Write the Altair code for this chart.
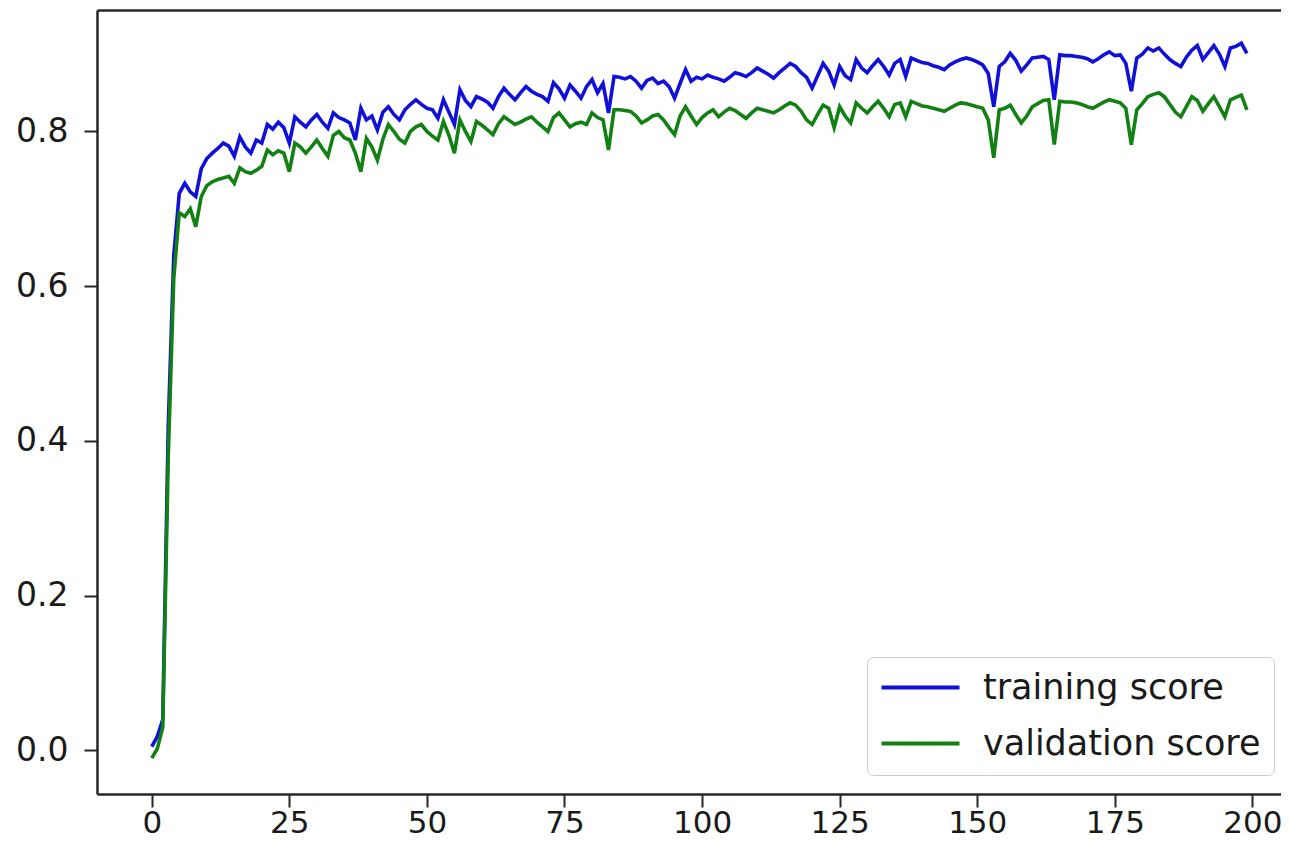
import altair as alt
import pandas as pd

series_names = ["training score", "validation score"]
epochs = list(range(200))

training = [
    0.005, 0.018, 0.040, 0.420, 0.640, 0.720, 0.733, 0.722, 0.716, 0.752,
    0.765, 0.772, 0.778, 0.785, 0.781, 0.768, 0.793, 0.780, 0.772, 0.789,
    0.785, 0.809, 0.803, 0.812, 0.805, 0.785, 0.819, 0.812, 0.806, 0.815,
    0.822, 0.812, 0.804, 0.824, 0.818, 0.815, 0.811, 0.789, 0.830, 0.815,
    0.820, 0.802, 0.825, 0.832, 0.822, 0.815, 0.828, 0.835, 0.841, 0.835,
    0.830, 0.828, 0.817, 0.841, 0.825, 0.809, 0.854, 0.840, 0.832, 0.845,
    0.842, 0.838, 0.830, 0.845, 0.856, 0.848, 0.841, 0.850, 0.858, 0.852,
    0.848, 0.845, 0.839, 0.863, 0.855, 0.843, 0.860, 0.852, 0.843, 0.858,
    0.867, 0.850, 0.862, 0.824, 0.871, 0.870, 0.868, 0.871, 0.865, 0.856,
    0.866, 0.869, 0.862, 0.865, 0.858, 0.843, 0.862, 0.880, 0.865, 0.870,
    0.868, 0.873, 0.870, 0.868, 0.865, 0.870, 0.876, 0.874, 0.871, 0.876,
    0.882, 0.878, 0.874, 0.869, 0.876, 0.882, 0.888, 0.884, 0.876, 0.870,
    0.856, 0.872, 0.888, 0.878, 0.860, 0.884, 0.872, 0.867, 0.893, 0.882,
    0.876, 0.885, 0.893, 0.884, 0.873, 0.888, 0.893, 0.871, 0.895, 0.892,
    0.889, 0.888, 0.885, 0.883, 0.880, 0.886, 0.890, 0.893, 0.895, 0.893,
    0.890, 0.886, 0.875, 0.832, 0.884, 0.890, 0.901, 0.892, 0.878, 0.886,
    0.895, 0.896, 0.897, 0.893, 0.841, 0.899, 0.898, 0.898, 0.897, 0.896,
    0.894, 0.890, 0.894, 0.899, 0.903, 0.898, 0.899, 0.888, 0.852, 0.895,
    0.900, 0.908, 0.904, 0.908, 0.900, 0.893, 0.888, 0.884, 0.896, 0.905,
    0.911, 0.893, 0.902, 0.911, 0.900, 0.884, 0.908, 0.910, 0.914, 0.901,
]

validation = [
    -0.010, 0.002, 0.030, 0.380, 0.610, 0.695, 0.690, 0.700, 0.677, 0.716,
    0.730, 0.735, 0.738, 0.740, 0.742, 0.733, 0.753, 0.748, 0.746, 0.750,
    0.755, 0.776, 0.770, 0.775, 0.772, 0.748, 0.785, 0.780, 0.772, 0.780,
    0.789, 0.778, 0.768, 0.795, 0.800, 0.792, 0.789, 0.772, 0.748, 0.791,
    0.780, 0.763, 0.790, 0.809, 0.800, 0.790, 0.785, 0.800, 0.806, 0.809,
    0.800, 0.794, 0.789, 0.813, 0.795, 0.772, 0.815, 0.800, 0.787, 0.813,
    0.808, 0.802, 0.796, 0.810, 0.819, 0.814, 0.809, 0.812, 0.816, 0.819,
    0.812, 0.806, 0.800, 0.818, 0.824, 0.815, 0.806, 0.810, 0.812, 0.809,
    0.824, 0.818, 0.815, 0.776, 0.828, 0.828, 0.827, 0.826, 0.820, 0.811,
    0.815, 0.820, 0.822, 0.815, 0.805, 0.796, 0.820, 0.832, 0.820, 0.809,
    0.818, 0.824, 0.828, 0.819, 0.825, 0.830, 0.827, 0.822, 0.817, 0.824,
    0.830, 0.828, 0.826, 0.824, 0.828, 0.833, 0.837, 0.834, 0.826, 0.815,
    0.809, 0.822, 0.834, 0.830, 0.805, 0.832, 0.820, 0.811, 0.837, 0.830,
    0.824, 0.832, 0.839, 0.830, 0.819, 0.835, 0.837, 0.819, 0.839, 0.836,
    0.833, 0.832, 0.830, 0.828, 0.826, 0.830, 0.834, 0.837, 0.836, 0.834,
    0.832, 0.830, 0.815, 0.766, 0.828, 0.830, 0.834, 0.822, 0.811, 0.820,
    0.832, 0.836, 0.840, 0.841, 0.783, 0.839, 0.838, 0.838, 0.837, 0.835,
    0.832, 0.830, 0.834, 0.838, 0.841, 0.839, 0.837, 0.830, 0.783, 0.828,
    0.836, 0.845, 0.848, 0.850, 0.845, 0.835, 0.825, 0.819, 0.832, 0.845,
    0.840, 0.826, 0.836, 0.845, 0.832, 0.819, 0.841, 0.844, 0.847, 0.828,
]

x_ticks = [0, 25, 50, 75, 100, 125, 150, 175, 200]
y_ticks = [0.0, 0.2, 0.4, 0.6, 0.8]
line_colors = ["#1010d8", "#138013"]

df = pd.concat([
    pd.DataFrame({"epoch": epochs, "score": training, "series": series_names[0]}),
    pd.DataFrame({"epoch": epochs, "score": validation, "series": series_names[1]}),
])

x_scale = alt.Scale(domain=[-9.95, 205.2], nice=False, zero=False)
y_scale = alt.Scale(domain=[-0.0563, 0.957], nice=False, zero=False)

axis_common = dict(
    grid=False,
    domainColor="#262626",
    domainWidth=2.5,
    tickColor="#262626",
    tickWidth=2,
    labelFont="DejaVu Sans",
    labelColor="#1a1a1a",
    labelFlush=False,
    labelOverlap=False,
    title=None,
)

lines = alt.Chart(df).mark_line(strokeWidth=3.6, clip=True).encode(
    x=alt.X("epoch:Q", scale=x_scale,
            axis=alt.Axis(values=x_ticks, tickSize=13, labelPadding=1, labelFontSize=31,
                          **axis_common)),
    y=alt.Y("score:Q", scale=y_scale,
            axis=alt.Axis(values=y_ticks, format=".1f", tickSize=13, labelPadding=16,
                          labelFontSize=33, **axis_common)),
    color=alt.Color(
        "series:N",
        scale=alt.Scale(domain=series_names, range=line_colors),
        legend=alt.Legend(
            title=None,
            orient="none",
            legendX=770,
            legendY=647,
            symbolType="M-1.23,0H4.77",
            symbolStrokeWidth=4,
            symbolSize=676,
            symbolFillColor="transparent",
            labelFontSize=35,
            labelFont="DejaVu Sans",
            labelColor="#1a1a1a",
            labelLimit=600,
            labelOffset=68,
            rowPadding=20,
            padding=13,
            strokeColor="#cccccc",
            fillColor="white",
            cornerRadius=6,
        ),
    ),
)

top_frame = alt.Chart(df).mark_line(opacity=0, clip=True).encode(
    x=alt.X("epoch:Q", scale=x_scale,
            axis=alt.Axis(orient="top", labels=False, ticks=False, grid=False, title=None,
                          domainColor="#262626", domainWidth=2.5)),
    y=alt.Y("score:Q", scale=y_scale),
)

chart = alt.layer(lines, top_frame).resolve_axis(x="independent").properties(
    width=1184,
    height=784,
    autosize=alt.AutoSizeParams(type="none"),
    padding={"left": 89, "top": 2, "right": 0, "bottom": 47},
).configure_view(stroke=None)

chart.save("out.html", embed_options={"renderer": "svg", "actions": False})
